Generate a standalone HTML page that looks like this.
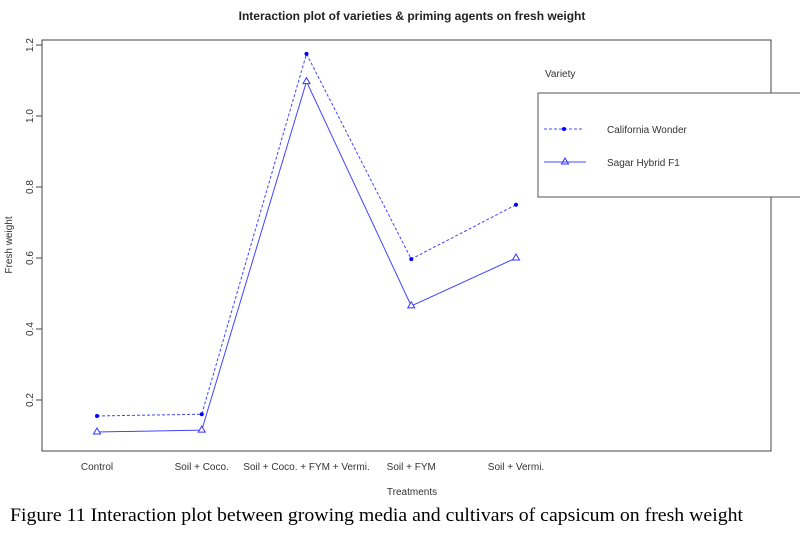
<!DOCTYPE html>
<html><head><meta charset="utf-8"><style>
body{margin:0;background:#fff;width:800px;height:533px;overflow:hidden}
svg{display:block;font-family:"Liberation Sans",Arial,sans-serif}
</style></head><body>
<svg id="c" width="800" height="533">
<text x="412" y="20" text-anchor="middle" font-size="12" font-weight="bold" fill="#222">Interaction plot of varieties &amp; priming agents on fresh weight</text>
<rect x="42" y="40" width="729" height="411" fill="none" stroke="#444"/>
<text transform="translate(12,245) rotate(-90)" text-anchor="middle" font-size="10" fill="#333">Fresh weight</text>
<text x="412" y="495" text-anchor="middle" font-size="10" fill="#333">Treatments</text>
<g id="axes"></g><g id="marks"></g>
<text x="545" y="77" font-size="10" fill="#333">Variety</text>
<rect x="538" y="93" width="270" height="104" fill="#fff" stroke="#555"/>
<g>
<line x1="544" y1="129" x2="584" y2="129" stroke="#44f" stroke-dasharray="3,2"/>
<circle cx="564" cy="129" r="2" fill="#00f"/>
<text x="607" y="133" font-size="10" fill="#333">California Wonder</text></g>
<g>
<line x1="544" y1="162" x2="586" y2="162" stroke="#44f"/>
<path d="M565,158 L568.5,164 L561.5,164 Z" fill="none" stroke="#33f"/>
<text x="607" y="166" font-size="10" fill="#333">Sagar Hybrid F1</text></g>
<text x="10" y="521" font-family="Liberation Serif,serif" font-size="19" textLength="733" lengthAdjust="spacingAndGlyphs" fill="#000">Figure 11 Interaction plot between growing media and cultivars of capsicum on fresh weight</text>
</svg>
<script>
const categories=["Control","Soil + Coco.","Soil + Coco. + FYM + Vermi.","Soil + FYM","Soil + Vermi."];
const californiaWonder=[0.155,0.16,1.175,0.597,0.75];
const sagarHybrid=[0.11,0.115,1.097,0.465,0.60];
const yTicks=[0.2,0.4,0.6,0.8,1.0,1.2];
const NS="http://www.w3.org/2000/svg";
const xS=i=>97+i*104.75;
const yS=v=>400-(v-0.2)*355;
function mk(t,a,p){const e=document.createElementNS(NS,t);for(const k in a)e.setAttribute(k,a[k]);p.appendChild(e);return e;}
const ax=document.getElementById('axes'),mg=document.getElementById('marks');
yTicks.forEach(v=>{
 const l=mk('line',{x1:36,x2:42,y1:yS(v),y2:yS(v),stroke:'#444'},ax);
 
 
 const t=mk('text',{transform:`translate(33,${yS(v)}) rotate(-90)`,'text-anchor':'middle','font-size':10,fill:'#333'},ax);
 t.textContent=v.toFixed(1);
 
 
});
categories.forEach((c,i)=>{
 const t=mk('text',{x:xS(i),y:470,'text-anchor':'middle','font-size':10,fill:'#333'},ax);
 t.textContent=c;
 
 
});
const p1=mk('polyline',{points:californiaWonder.map((v,i)=>xS(i)+','+yS(v)).join(' '),fill:'none',stroke:'#44f','stroke-dasharray':'3,2'},mg);


const p2=mk('polyline',{points:sagarHybrid.map((v,i)=>xS(i)+','+yS(v)).join(' '),fill:'none',stroke:'#44f'},mg);


californiaWonder.forEach((v,i)=>{
 const c=mk('circle',{cx:xS(i),cy:yS(v),r:2,fill:'#00f'},mg);
 
 
});
sagarHybrid.forEach((v,i)=>{
 const x=xS(i),y=yS(v);
 const t=mk('path',{d:`M${x},${y-4} L${x+3.5},${y+2} L${x-3.5},${y+2} Z`,fill:'#fff',stroke:'#33f'},mg);
 
 
});
</script>
</body></html>
